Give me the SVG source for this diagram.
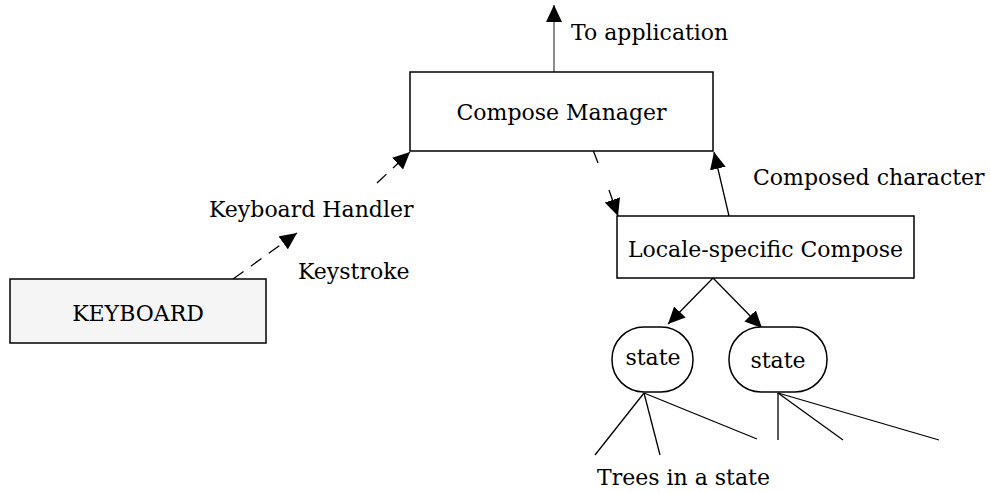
<svg xmlns="http://www.w3.org/2000/svg" width="990" height="492" viewBox="0 0 990 492">
<style>
  .box { fill: #ffffff; stroke: #000; stroke-width: 1.5; }
  .kbd { fill: #f5f5f5; stroke: #000; stroke-width: 1.5; }
  .lbl { font-family: "DejaVu Serif", "Liberation Serif", serif; font-size: 22px; fill: #000; }
  .ln { stroke: #000; stroke-width: 1.3; fill: none; }
  .gray { stroke: #666; stroke-width: 1.5; fill: none; }
  .dash { stroke: #000; stroke-width: 1.3; fill: none; stroke-dasharray: 13 9; }
</style>
<defs>
  <marker id="ah" markerUnits="userSpaceOnUse" markerWidth="19" markerHeight="16" refX="17" refY="8" orient="auto">
    <path d="M0,0 L17,8 L0,16 Z" fill="#000"/>
  </marker>
</defs>
<rect width="990" height="492" fill="#fff"/>

<g id="connectors">
  <line class="gray" x1="554" y1="72" x2="554" y2="5" marker-end="url(#ah)"/>
  <line class="dash" x1="233" y1="279" x2="297" y2="233" marker-end="url(#ah)"/>
  <line class="dash" x1="377" y1="183" x2="410" y2="152" marker-end="url(#ah)"/>
  <line class="ln" x1="593" y1="150" x2="598" y2="163"/>
  <line class="ln" x1="609" y1="190" x2="618" y2="216" marker-end="url(#ah)"/>
  <line class="ln" x1="729" y1="216" x2="714" y2="152" marker-end="url(#ah)"/>
  <line class="ln" x1="713" y1="278" x2="668" y2="324" marker-end="url(#ah)"/>
  <line class="ln" x1="713" y1="278" x2="762" y2="328" marker-end="url(#ah)"/>
  <line class="ln" x1="644" y1="393" x2="595" y2="455"/>
  <line class="ln" x1="644" y1="393" x2="660" y2="455"/>
  <line class="ln" x1="644" y1="393" x2="757" y2="439"/>
  <line class="ln" x1="778" y1="393" x2="778" y2="440"/>
  <line class="ln" x1="778" y1="393" x2="843" y2="440"/>
  <line class="ln" x1="778" y1="393" x2="939" y2="440"/>
</g>

<g id="compose-manager">
  <rect class="box" x="410" y="72" width="303" height="79"/>
  <text class="lbl" x="561.5" y="120" text-anchor="middle">Compose Manager</text>
</g>
<g id="keyboard">
  <rect class="kbd" x="10" y="279" width="256" height="64"/>
  <text class="lbl" x="138" y="321" text-anchor="middle">KEYBOARD</text>
</g>
<g id="locale-compose">
  <rect class="box" x="617" y="216" width="297" height="62"/>
  <text class="lbl" x="765.5" y="257" text-anchor="middle">Locale-specific Compose</text>
</g>
<g id="state1">
  <rect class="box" x="612" y="327" width="81" height="65" rx="32" ry="32"/>
  <text class="lbl" x="653" y="365" text-anchor="middle">state</text>
</g>
<g id="state2">
  <rect class="box" x="729" y="327" width="98" height="65" rx="32" ry="32"/>
  <text class="lbl" x="778" y="368" text-anchor="middle">state</text>
</g>

<g id="labels">
  <text class="lbl" x="571" y="40">To application</text>
  <text class="lbl" x="209" y="217">Keyboard Handler</text>
  <text class="lbl" x="298" y="279">Keystroke</text>
  <text class="lbl" x="753" y="185">Composed character</text>
  <text class="lbl" x="597" y="485">Trees in a state</text>
</g>
</svg>
